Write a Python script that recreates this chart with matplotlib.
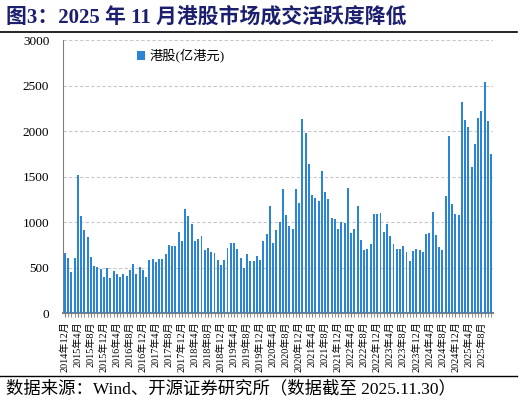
import matplotlib
matplotlib.use("Agg")
import matplotlib.pyplot as plt
from matplotlib.ticker import MultipleLocator, FixedLocator

# ---- data ----
start_year, start_month, n_months = 2014, 12, 132
months = []
y, m = start_year, start_month
for _ in range(n_months):
    months.append(f"{y}年{m}月")
    m += 1
    if m > 12:
        m = 1
        y += 1

hk_turnover = [663, 610, 446, 610, 1512, 1065, 918, 832, 615, 520, 511, 479, 397, 496, 386, 460, 431, 395, 425, 407,
               478, 540, 433, 501, 468, 394, 578, 598, 557, 598, 598, 647, 745, 736, 736, 893, 787, 1147, 1072, 975,
               795, 810, 852, 690, 718, 674, 656, 585, 524, 586, 720, 770, 770, 704, 605, 493, 652, 575, 574, 622,
               586, 790, 867, 1173, 768, 913, 996, 1365, 1077, 956, 920, 1365, 1212, 2129, 1974, 1638, 1303, 1270, 1228, 1560,
               1326, 1252, 1041, 1039, 922, 1004, 993, 1375, 884, 919, 1182, 805, 692, 703, 755, 1084, 1084, 1105, 896, 978,
               845, 754, 706, 706, 739, 673, 577, 684, 706, 695, 676, 864, 875, 1106, 860, 731, 695, 1287, 1941, 1195,
               1084, 1077, 2316, 2121, 2048, 1603, 1853, 2139, 2220, 2536, 2114, 1750]
series_name = "港股(亿港元)"
title_text = "图3：2025 年 11 月港股市场成交活跃度降低"
source_text = "数据来源：Wind、开源证券研究所（数据截至 2025.11.30）"

SERIF = ["Liberation Serif", "Noto Sans CJK SC"]
BAR_COLOR = "#2b84d4"

fig = plt.figure(figsize=(5.22, 4.05), dpi=100)
ax = fig.add_axes([0.121, 0.227, 0.823, 0.674])

x = list(range(len(hk_turnover)))
ax.bar(x, hk_turnover, width=0.6, color=BAR_COLOR, label=series_name, zorder=3)

ax.set_ylim(0, 3000)
ax.set_xlim(-0.5, len(hk_turnover) - 0.5)
ax.yaxis.set_major_locator(MultipleLocator(500))
ax.grid(axis="y", linestyle=(0, (3, 2)), color="#c8c8c8", linewidth=0.8, zorder=0)
ax.set_axisbelow(True)

for s in ["top", "right"]:
    ax.spines[s].set_visible(False)
ax.spines["left"].set_color("#808080")
ax.spines["bottom"].set_color("#808080")
ax.spines["bottom"].set_linewidth(1.5)

tick_idx = list(range(0, len(months), 4))
ax.xaxis.set_major_locator(FixedLocator(tick_idx))
ax.set_xticklabels([months[i] for i in tick_idx], rotation=90, fontsize=7.3, family=SERIF)
ax.xaxis.set_minor_locator(FixedLocator(x))
ax.tick_params(axis="x", which="both", length=3, color="#808080", pad=3)
ax.tick_params(axis="y", length=0, labelsize=9.5, pad=10)
for lab in ax.get_yticklabels():
    lab.set_family(SERIF)

leg = ax.legend(loc="upper left", bbox_to_anchor=(0.145, 1.01), frameon=False,
                prop={"family": SERIF, "size": 9.5}, handlelength=0.6, handleheight=0.6,
                handletextpad=0.3)

# title and rules
fig.text(0.012, 0.958, title_text, fontsize=15, fontweight="bold", color="#1b1f6e",
         family=SERIF, va="center", ha="left")
fig.add_artist(plt.Line2D([0.0, 0.99], [0.922, 0.922], color="black", linewidth=1.2))
fig.add_artist(plt.Line2D([0.0, 0.99], [0.072, 0.072], color="black", linewidth=1.0))
fig.text(0.012, 0.040, source_text, fontsize=12.5, color="black", family=SERIF,
         va="center", ha="left")

fig.savefig("out.png", dpi=100)
